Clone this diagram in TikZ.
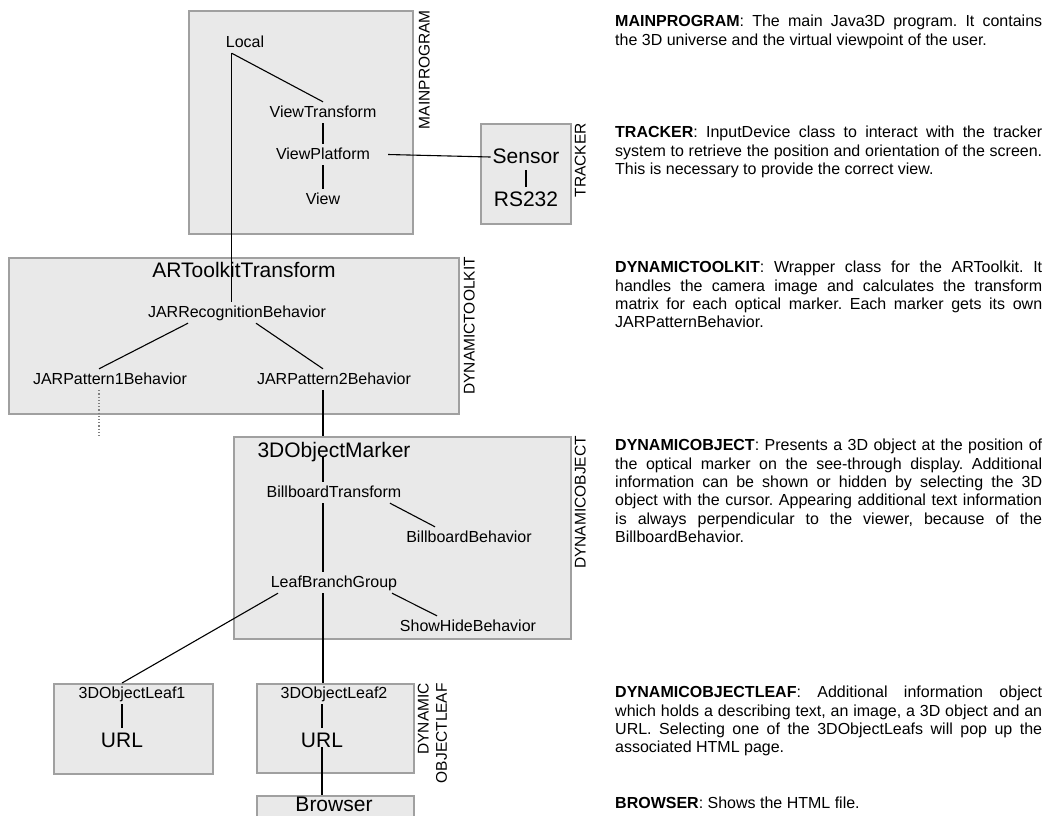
\documentclass[tikz,border=0pt]{standalone}
\usepackage{fontspec}
\setmainfont{Liberation Sans}
\usetikzlibrary{calc}
\definecolor{boxfill}{HTML}{E9E9E9}
\definecolor{boxline}{HTML}{A0A0A0}
\newcommand{\jl}[1]{\makebox[427pt][s]{#1}}
\frenchspacing
\begin{document}
\begin{tikzpicture}[x=1pt,y=-1pt,
  box/.style={draw=boxline,fill=boxfill,line width=1.6pt,anchor=north west,inner sep=0pt},
  sm/.style={font=\fontsize{16}{18}\selectfont,text height=12pt,text depth=3pt,inner xsep=2pt,inner ysep=3pt,anchor=base},
  lg/.style={font=\fontsize{21}{24}\selectfont,text height=16pt,text depth=4pt,inner xsep=2pt,inner ysep=3pt,anchor=base},
  rot/.style={font=\fontsize{15.5}{18.3}\selectfont,rotate=90,anchor=north east,inner sep=0pt},
  desc/.style={font=\fontsize{16}{18.3}\selectfont\frenchspacing,anchor=north west,inner sep=0pt,align=left},
  conn/.style={draw=black,line width=1.1pt},
  dotline/.style={draw=gray,line width=1.2pt,dotted}]
\useasboundingbox (0,0) rectangle (1047,815);
\clip (0,0) rectangle (1047,815);

% boxes
\node[box,minimum width=224pt,minimum height=223pt] (mainb) at (188,10) {};
\node[box,minimum width=90pt,minimum height=100pt] (trackb) at (480,123) {};
\node[box,minimum width=450pt,minimum height=156pt] (toolb) at (8,257) {};
\node[box,minimum width=337pt,minimum height=202pt] (objb) at (233,436) {};
\node[box,minimum width=159pt,minimum height=90pt] (leaf1b) at (53,683) {};
\node[box,minimum width=157pt,minimum height=89pt] (leaf2b) at (256,683) {};
\node[box,minimum width=157pt,minimum height=60pt] (brb) at (256,795) {};

% box labels
\node[rot] (lmain) at ([xshift=5pt]mainb.north east) {MAINPROGRAM};
\node[rot] (ltrack) at ([xshift=3pt]trackb.north east) {TRACKER};
\node[rot] (ltool) at ([xshift=4pt]toolb.north east) {DYNAMICTOOLKIT};
\node[rot] (lobj) at ([xshift=3pt]objb.north east) {DYNAMICOBJECT};
\node[rot,align=right] (lleaf) at ([xshift=3pt]leaf2b.north east) {DYNAMIC\\OBJECTLEAF};

% MAINPROGRAM
\node[sm] (local) at (245,47) {Local};
\node[sm] (vt) at (323,117) {ViewTransform};
\node[sm] (vp) at (323,159) {ViewPlatform};
\node[sm] (view) at (323,204) {View};
% TRACKER
\node[lg] (sensor) at (526,163) {Sensor};
\node[lg] (rs) at (526,206) {RS232};
% DYNAMICTOOLKIT
\node[lg] (art) at (244,277) {ARToolkitTransform};
\node[sm] (jrb) at (237,317) {JARRecognitionBehavior};
\node[sm] (jp1) at (110,384) {JARPattern1Behavior};
\node[sm] (jp2) at (334,384) {JARPattern2Behavior};
% DYNAMICOBJECT
\node[lg] (mk) at (334,457) {3DObjectMarker};
\node[sm] (bt) at (334,497) {BillboardTransform};
\node[sm] (bb) at (469,542) {BillboardBehavior};
\node[sm] (lbg) at (334,587) {LeafBranchGroup};
\node[sm] (sh) at (468,631) {ShowHideBehavior};
% LEAFS
\node[sm] (ol1) at (132,698) {3DObjectLeaf1};
\node[lg] (u1) at (122,747) {URL};
\node[sm] (ol2) at (334,698) {3DObjectLeaf2};
\node[lg] (u2) at (322,747) {URL};
\node[lg] (br) at (334,811) {Browser};

% connectors
\coordinate (lj) at ([xshift=8pt]local.south west);
\draw[conn] (lj) -- (vt.north);
\draw[conn] (lj) -- (lj |- jrb.north);
\draw[conn] (vt.south) -- (vp.north);
\draw[conn] (vp.south) -- (view.north);
\draw[conn] ([xshift=16pt]vp.east) -- (sensor.west);
\draw[conn] (sensor.south) -- (rs.north);
\draw[conn] ([xshift=-49pt]jrb.south) -- ([xshift=-11pt]jp1.north);
\draw[conn] ([xshift=19pt]jrb.south) -- ([xshift=-11pt]jp2.north);
\coordinate (dotend) at (99,437);
\draw[dotline] ([xshift=-11pt]jp1.south) -- (dotend);
\coordinate (x2) at ([xshift=-11pt]jp2.south);
\draw[conn] (x2) -- (x2 |- objb.north);
\draw[conn] ([xshift=-11pt]mk.base) -- ([xshift=-11pt]bt.north);
\draw[conn] ([xshift=56pt]bt.south) -- ([xshift=-34pt]bb.north);
\draw[conn] ([xshift=-11pt]bt.south) -- ([xshift=-11pt]lbg.north);
\draw[conn] ([xshift=58pt]lbg.south) -- ([xshift=-31pt]sh.north);
\draw[conn] ([xshift=-56pt]lbg.south) -- (u1 |- leaf1b.north);
\coordinate (x3) at ([xshift=-11pt]lbg.south);
\draw[conn] (x3) -- (x3 |- leaf2b.north);
\draw[conn] (u1 |- ol1.south) -- (u1.north);
\draw[conn] (u2 |- ol2.south) -- (u2.north);
\draw[conn] (u2.base) -- (u2 |- brb.north);

% descriptions
\node[desc] (dmain) at (615,15) {\jl{\textbf{MAINPROGRAM}: The main Java3D program. It contains}\\
the 3D universe and the virtual viewpoint of the user.};
\node[desc] (dtrack) at (615,126) {\jl{\textbf{TRACKER}: InputDevice class to interact with the tracker}\\
\jl{system to retrieve the position and orientation of the screen.}\\
This is necessary to provide the correct view.};
\node[desc] (dtool) at (615,261) {\jl{\textbf{DYNAMICTOOLKIT}: Wrapper class for the ARToolkit. It}\\
\jl{handles the camera image and calculates the transform}\\
\jl{matrix for each optical marker. Each marker gets its own}\\
JARPatternBehavior.};
\node[desc] (dobj) at (615,439) {\jl{\textbf{DYNAMICOBJECT}: Presents a 3D object at the position of}\\
\jl{the optical marker on the see-through display. Additional}\\
\jl{information can be shown or hidden by selecting the 3D}\\
\jl{object with the cursor. Appearing additional text information}\\
\jl{is always perpendicular to the viewer, because of the}\\
BillboardBehavior.};
\node[desc] (dleaf) at (615,686) {\jl{\textbf{DYNAMICOBJECTLEAF}: Additional information object}\\
\jl{which holds a describing text, an image, a 3D object and an}\\
\jl{URL. Selecting one of the 3DObjectLeafs will pop up the}\\
associated HTML page.};
\node[desc] (dbrow) at (615,797) {\textbf{BROWSER}: Shows the HTML file.};
\end{tikzpicture}
\end{document}
